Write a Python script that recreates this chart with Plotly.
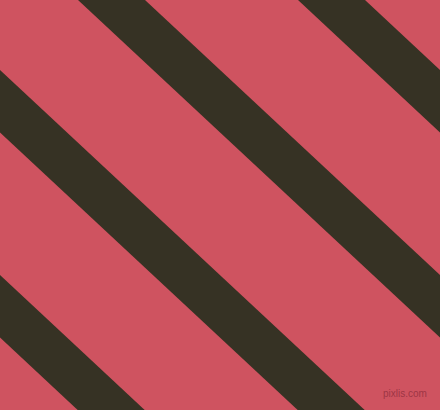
import plotly.graph_objects as go

# diagonal band pattern: where each dark band crosses the top edge (y = 0)
band_left = [-362, -142, 78, 298]
band_right = [-295, -75, 145, 365]
slope = 0.9325  # ~43 degrees

W, H = 440, 410
bg_color = "#CF5360"
band_color = "#363224"

fig = go.Figure()

y_top, y_bot = -60, H + 60
for a, b in zip(band_left, band_right):
    xs = [a + y_top / slope, b + y_top / slope, b + y_bot / slope, a + y_bot / slope, a + y_top / slope]
    ys = [y_top, y_top, y_bot, y_bot, y_top]
    fig.add_trace(go.Scatter(
        x=xs, y=ys, mode="lines", fill="toself",
        fillcolor=band_color, line=dict(width=0, color=band_color),
        hoverinfo="skip", showlegend=False,
    ))

# small watermark in the corner
fig.add_annotation(
    x=429, y=393, xref="x", yref="y", xanchor="right", text="pixlis.com", showarrow=False,
    font=dict(family="Liberation Sans", size=10, color="rgba(150,50,65,0.9)"),
)

fig.update_xaxes(range=[0, W], visible=False, fixedrange=True)
fig.update_yaxes(range=[H, 0], visible=False, fixedrange=True)
fig.update_layout(
    width=W, height=H,
    margin=dict(l=0, r=0, t=0, b=0),
    plot_bgcolor=bg_color, paper_bgcolor=bg_color,
)

fig.write_html(
    "out.html",
    config={"staticPlot": True},
    post_script="document.body.style.margin='0';document.body.style.overflow='hidden';",
)
